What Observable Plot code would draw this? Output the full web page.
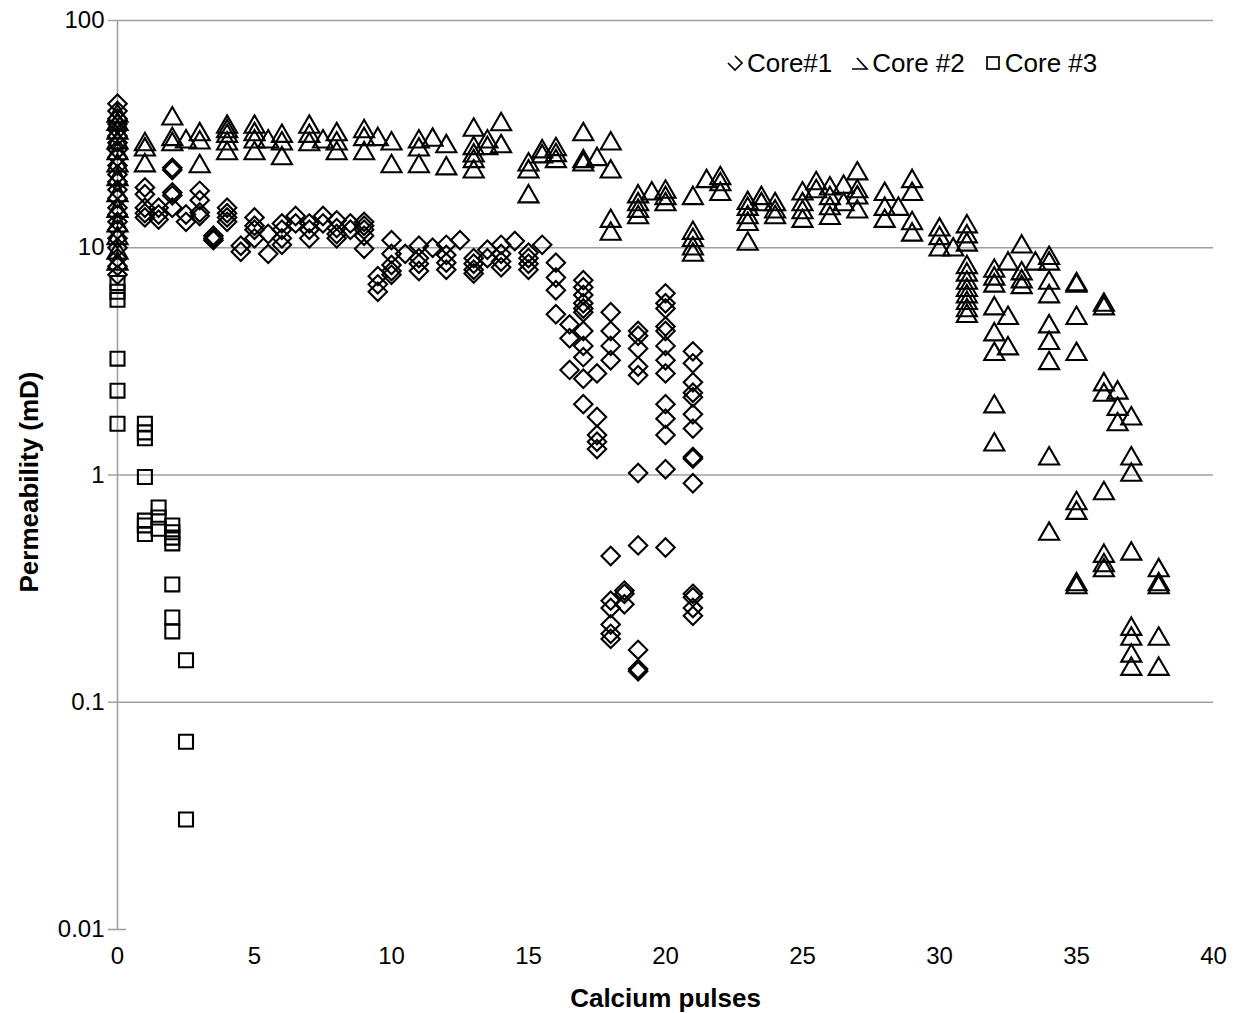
<!DOCTYPE html>
<html><head><meta charset="utf-8">
<script src="https://cdn.jsdelivr.net/npm/d3@7"></script>
<script src="https://cdn.jsdelivr.net/npm/@observablehq/plot@0.6"></script>
<style>
html,body{margin:0;padding:0;background:#fff;}
#wrap{position:relative;width:1241px;height:1013px;font-family:"Liberation Sans",Arial,sans-serif;}
#legend{position:absolute;left:726px;top:48px;font-size:26px;line-height:30px;display:flex;align-items:center;white-space:nowrap;color:#000;}
#legend .item{display:flex;align-items:center;margin-right:19px;}
#legend svg{margin-right:3px;}
</style></head>
<body><div id="wrap"><div id="chart"></div><div id="legend"></div></div>
<script>
const seriesNames = ["Core#1", "Core #2", "Core #3"];
const xTicks = [0, 5, 10, 15, 20, 25, 30, 35, 40];
const yTicks = [0.01, 0.1, 1, 10, 100];
const yTickLabels = ["0.01", "0.1", "1", "10", "100"];
const xTitle = "Calcium pulses";
const yTitle = "Permeability (mD)";

// [calcium pulses, [permeability values (mD)]]
const core1 = [
  [0, [43, 40, 37, 35, 33, 31, 29, 27, 25, 23, 21, 19.5, 18, 16.5, 15, 14, 13, 12, 11, 10, 9, 8.3, 7.6]],
  [1, [18.4, 17.2, 15, 14.2, 13.6]],
  [1.5, [15, 14, 13.3]],
  [2, [22.5, 22, 17.5, 17, 15]],
  [2.5, [14, 13]],
  [3, [17.8, 16.2, 14.3, 13.8]],
  [3.5, [11.3, 11, 10.8]],
  [4, [15, 14.2, 13.6, 13]],
  [4.5, [10.2, 9.6]],
  [5, [13.6, 12.5, 12, 11]],
  [5.5, [11.5, 9.4]],
  [6, [12.8, 12, 11, 10.3]],
  [6.5, [13.8, 12.8]],
  [7, [12.8, 12, 11]],
  [7.5, [13.8, 12.8]],
  [8, [13.2, 12.2, 11.5, 11]],
  [8.5, [12.8, 12]],
  [9, [13, 12.5, 12, 11.3, 9.9]],
  [9.5, [7.5, 6.9, 6.4]],
  [10, [10.8, 9.4, 8.4, 7.9, 7.6]],
  [10.5, [9.4]],
  [11, [10.2, 9, 8.5, 7.9]],
  [11.5, [10]],
  [12, [10.3, 9.3, 8.6, 8]],
  [12.5, [10.8]],
  [13, [9, 8.5, 8, 7.7]],
  [13.5, [9.8, 9]],
  [14, [10.3, 9.4, 8.7, 8.2]],
  [14.5, [10.7]],
  [15, [9.5, 9, 8.5, 8]],
  [15.5, [10.3]],
  [16, [8.6, 7.4, 6.5, 5.1]],
  [16.5, [4.6, 4, 2.9]],
  [17, [7.2, 6.7, 6.2, 5.7, 5.4, 5.2, 4.3, 3.7, 3.3, 2.65, 2.05]],
  [17.5, [2.8, 1.8, 1.5, 1.4, 1.3]],
  [18, [5.2, 4.3, 3.7, 3.2, 0.44, 0.28, 0.26, 0.22, 0.2, 0.19]],
  [18.5, [0.31, 0.3, 0.27]],
  [19, [4.3, 4.1, 3.6, 3, 2.75, 1.02, 0.49, 0.17, 0.14, 0.137]],
  [20, [6.3, 5.7, 5.4, 4.5, 4.3, 3.7, 3.2, 2.8, 2.05, 1.77, 1.5, 1.06, 0.48]],
  [21, [3.5, 3.1, 2.56, 2.3, 2.2, 1.85, 1.6, 1.2, 1.18, 0.92, 0.3, 0.29, 0.26, 0.24]]
];

const core2 = [
  [0, [38, 35, 32, 29, 26, 23, 20, 17, 14.5, 12.5, 11, 9.5, 8.5]],
  [1, [28.5, 27, 23]],
  [2, [37, 30, 28.5]],
  [2.5, [29.3]],
  [3, [31.5, 29, 22.8]],
  [4, [34, 32.5, 31, 28.7, 26]],
  [5, [34, 31.5, 29.3, 26]],
  [5.5, [29.3]],
  [6, [31, 28.7, 24.7]],
  [7, [34, 31, 28.5]],
  [7.5, [29.3]],
  [8, [31.5, 28.7, 26]],
  [9, [32.5, 30, 26]],
  [9.5, [30]],
  [10, [28.7, 22.8]],
  [11, [29.3, 27, 22.8]],
  [11.5, [29.8]],
  [12, [27.9, 22.3]],
  [13, [33, 27.4, 25.4, 24, 21.6]],
  [13.5, [29.3, 27.4]],
  [14, [34.9, 27.9]],
  [15, [23.2, 21.6, 16.8]],
  [15.5, [26.5, 25.2]],
  [16, [27.1, 25.5, 24]],
  [17, [31.5, 24, 23.2]],
  [17.5, [24.5]],
  [18, [28.7, 21.6, 13.1, 11.5]],
  [19, [16.8, 15.5, 14.5, 13.6]],
  [19.5, [17.3]],
  [20, [17.6, 16.5, 15.5]],
  [21, [16.5, 11.6, 10.8, 9.9, 9.3]],
  [21.5, [19.6]],
  [22, [20.2, 19, 17.2]],
  [23, [15.7, 14.8, 13.6, 12.7, 10.4]],
  [23.5, [16.5, 15.5]],
  [24, [15.5, 14.4, 13.6]],
  [25, [17.3, 15.5, 14.3, 13.1]],
  [25.5, [19.2, 17.7]],
  [26, [18.2, 16.5, 14.9, 13.5]],
  [26.5, [18.5, 15.5]],
  [27, [21.2, 17.7, 16.6, 14.4]],
  [28, [17.2, 14.8, 13.1]],
  [28.5, [14.8]],
  [29, [19.6, 17.2, 12.8, 11.4]],
  [30, [12, 11, 9.8]],
  [30.5, [9.8]],
  [31, [12.4, 11.2, 10.3, 8.2, 7.6, 7, 6.5, 6.1, 5.7, 5.3, 5]],
  [32, [7.9, 7.3, 6.8, 5.4, 4.15, 3.4, 2, 1.36]],
  [32.5, [8.5, 4.9, 3.6]],
  [33, [10.1, 7.7, 7.1, 6.7]],
  [33.5, [8.5]],
  [34, [9, 8.5, 7, 6.1, 4.5, 3.8, 3.1, 1.18, 0.55]],
  [35, [6.9, 6.8, 4.9, 3.4, 0.75, 0.68, 0.33, 0.32]],
  [36, [5.6, 5.4, 2.5, 2.25, 0.83, 0.44, 0.4, 0.38]],
  [36.5, [2.3, 1.95, 1.67]],
  [37, [1.77, 1.18, 1.0, 0.45, 0.21, 0.19, 0.16, 0.14]],
  [38, [0.38, 0.33, 0.32, 0.19, 0.14]]
];

const core3 = [
  [0, [7, 6.4, 5.9, 3.25, 2.35, 1.68]],
  [1, [1.68, 1.54, 1.45, 0.98, 0.63, 0.6, 0.55]],
  [1.5, [0.72, 0.65, 0.58]],
  [2, [0.6, 0.56, 0.53, 0.5, 0.33, 0.236, 0.205]],
  [2.5, [0.153, 0.067, 0.0305]]
];

const flat = (groups) => groups.flatMap(([x, ys]) => ys.map((y) => ({x, y})));
const d1 = flat(core1), d2 = flat(core2), d3 = flat(core3);

const grid = "#a0a0a0";
const markStyle = {x: "x", y: "y", fill: "none", stroke: "#000", strokeWidth: 2.1};

const chart = Plot.plot({
  width: 1241,
  height: 1013,
  marginLeft: 117,
  marginRight: 28,
  marginTop: 20,
  marginBottom: 84,
  style: {fontFamily: "'Liberation Sans', Arial, sans-serif", fontSize: "24px", background: "#fff", color: "#000", overflow: "visible"},
  x: {domain: [0, 40]},
  y: {type: "log", domain: [0.01, 100]},
  marks: [
    Plot.ruleY(yTicks.slice(1), {stroke: grid, strokeWidth: 1.6, insetLeft: -9}),
    Plot.ruleY(yTicks.slice(0, 1), {stroke: grid, strokeWidth: 1.6, insetLeft: -9, insetRight: 1087}),
    Plot.ruleX([0], {stroke: grid, strokeWidth: 1.6}),
    Plot.axisY({ticks: yTicks, tickSize: 0, tickPadding: 13, fontSize: 24, label: null,
      tickFormat: (d) => yTickLabels[yTicks.indexOf(d)]}),
    Plot.axisX({ticks: xTicks, tickSize: 0, tickPadding: 17, fontSize: 24, label: null}),
    Plot.dot(d1, {...markStyle, symbol: "diamond2", r: 8.3}),
    Plot.dot(d2, {...markStyle, symbol: "triangle2", r: 9.6}),
    Plot.dot(d3, {...markStyle, symbol: "square2", r: 8.9}),
    Plot.text([xTitle], {frameAnchor: "bottom", lineAnchor: "middle", textAnchor: "middle", dy: 69, fontWeight: "bold", fontSize: 26}),
    Plot.text([yTitle], {frameAnchor: "left", lineAnchor: "middle", textAnchor: "middle", dx: -88, dy: 7, rotate: -90, fontWeight: "bold", fontSize: 26})
  ]
});
document.getElementById("chart").appendChild(chart);

// legend
const legendSymbols = [
  '<svg width="18" height="18" viewBox="0 0 18 18"><path d="M2 9 L9 16 L16 9 L9 2" fill="none" stroke="#000" stroke-width="1.7"/></svg>',
  '<svg width="18" height="18" viewBox="0 0 18 18"><path d="M6 4 L16 15 L1 15" fill="none" stroke="#000" stroke-width="1.7"/></svg>',
  '<svg width="18" height="18" viewBox="0 0 18 18"><rect x="3" y="3" width="12" height="12" fill="none" stroke="#000" stroke-width="1.7"/></svg>'
];
const legend = document.getElementById("legend");
seriesNames.forEach((name, i) => {
  const item = document.createElement("div");
  item.className = "item";
  item.innerHTML = legendSymbols[i] + "<span>" + name + "</span>";
  legend.appendChild(item);
});
</script>
</body></html>
